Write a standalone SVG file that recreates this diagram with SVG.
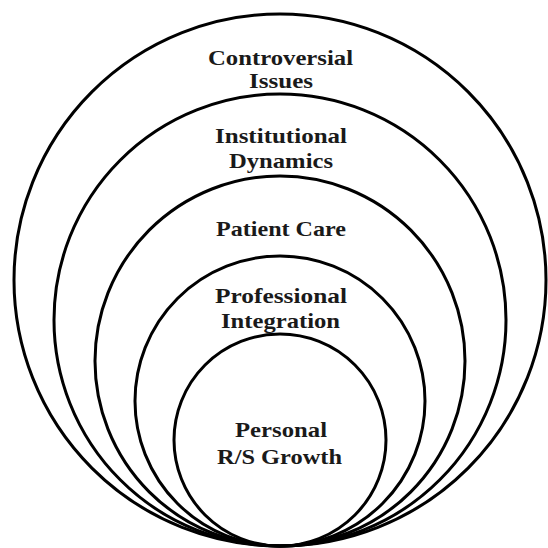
<svg xmlns="http://www.w3.org/2000/svg" width="548" height="548" viewBox="0 0 548 548">
<style>
.ring{fill:none;stroke:#000;stroke-width:3}
.lbl{font-family:"Liberation Serif","Times New Roman",serif;font-weight:bold;font-size:21px;fill:#1a1a1a;text-anchor:middle}
</style>
<rect width="548" height="548" fill="#fff"/>
<g id="controversial-issues">
<circle class="ring" cx="280" cy="280" r="266"/>
<text class="lbl" x="280.5" y="65" textLength="145" lengthAdjust="spacingAndGlyphs">Controversial</text>
<text class="lbl" x="281" y="88" textLength="64" lengthAdjust="spacingAndGlyphs">Issues</text>
</g>
<g id="institutional-dynamics">
<circle class="ring" cx="280" cy="320" r="226"/>
<text class="lbl" x="281" y="143" textLength="132" lengthAdjust="spacingAndGlyphs">Institutional</text>
<text class="lbl" x="281" y="168" textLength="104" lengthAdjust="spacingAndGlyphs">Dynamics</text>
</g>
<g id="patient-care">
<circle class="ring" cx="280" cy="361" r="185"/>
<text class="lbl" x="281" y="236" textLength="130" lengthAdjust="spacingAndGlyphs">Patient Care</text>
</g>
<g id="professional-integration">
<circle class="ring" cx="280" cy="401" r="145"/>
<text class="lbl" x="281" y="303" textLength="132" lengthAdjust="spacingAndGlyphs">Professional</text>
<text class="lbl" x="280.5" y="328" textLength="119" lengthAdjust="spacingAndGlyphs">Integration</text>
</g>
<g id="personal-rs-growth">
<circle class="ring" cx="280" cy="440" r="106"/>
<text class="lbl" x="281" y="437" textLength="92" lengthAdjust="spacingAndGlyphs">Personal</text>
<text class="lbl" x="279.5" y="464" textLength="125" lengthAdjust="spacingAndGlyphs">R/S Growth</text>
</g>
<g id="connectors"/>
</svg>
